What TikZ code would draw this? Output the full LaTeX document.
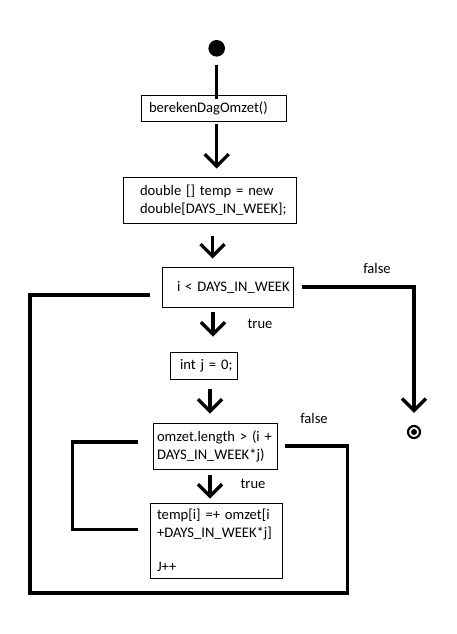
\documentclass[tikz,border=0pt]{standalone}
\usepackage{fontspec}
\setmainfont{Carlito}
\usetikzlibrary{arrows.meta}
\begin{document}
\begin{tikzpicture}[x=1pt,y=-1pt,
  box/.style={draw, line width=1pt, inner xsep=0pt, inner ysep=0pt, align=left, font=\fontsize{14.6}{18}\selectfont},
  thickline/.style={line width=3.3pt},
  arr/.style={line width=3.3pt, -{Straight Barb[length=12pt,width=24pt]}},
  lbl/.style={font=\fontsize{14.6}{18}\selectfont, inner sep=0pt}]
\useasboundingbox[fill=white] (0,0) rectangle (456,634);
% nodes
\node[circle, fill, minimum size=16.6pt, inner sep=0pt] (s) at (216.7,48.3) {};
\node[box, text width=145pt, minimum height=26pt] (b1) at (213.5,108) {\hspace*{8pt}berekenDagOmzet()};
\node[box, text width=173pt, minimum height=46pt] (b2) at (209.5,200) {\hspace*{17pt}\mbox{double [] temp = new}\\\hspace*{17pt}\mbox{double[DAYS\_IN\_WEEK];}};
\node[box, text width=131pt, minimum height=40pt] (b3) at (227.5,287) {\hspace*{15pt}\mbox{i < DAYS\_IN\_WEEK}};
\node[box, text width=67pt, minimum height=27pt] (b4) at (203.5,365.5) {\hspace*{10pt}\mbox{int j = 0;}};
\node[box, text width=124pt, minimum height=46pt] (b5) at (215,446) {\hspace*{4pt}\mbox{omzet.length > (i +}\\\hspace*{4pt}\mbox{DAYS\_IN\_WEEK*j)}};
\node[box, text width=132pt, minimum height=75pt] (b6) at (216,540.5) {\hspace*{7pt}\mbox{temp[i] =+ omzet[i}\\\hspace*{7pt}\mbox{+DAYS\_IN\_WEEK*j]}\\[16pt]\hspace*{7pt}J++};
\node[circle, draw, line width=2.2pt, minimum size=12pt, inner sep=0pt,
  path picture={\fill (path picture bounding box.center) circle (3pt);}] (e) at (414,432) {};
\coordinate (lo) at (30,593);
% labels
\node[lbl] (f1) at (377,268) {false};
\node[lbl] (t1) at (260,324) {true};
\node[lbl] (f2) at (314,418) {false};
\node[lbl] (t2) at (253,484) {true};
% connectors
\draw[thickline, shorten <=8.4pt, shorten >=-4pt] (s) -- (s |- b1.north);
\draw[arr, shorten <=2pt, shorten >=8pt] (s |- b1.south) -- (s |- b2.north);
\draw[arr, shorten <=12pt, shorten >=8pt] ([xshift=3pt]b2.south) -- ([xshift=3pt]b2.south |- b3.north);
\draw[arr, shorten <=4pt, shorten >=15pt] ([xshift=-14.5pt]b3.south) -- ([xshift=-14.5pt]b3.south |- b4.north);
\draw[arr, shorten <=9pt, shorten >=9pt] ([xshift=6.5pt]b4.south) -- ([xshift=6.5pt]b4.south |- b5.north);
\draw[arr, shorten <=5pt, shorten >=4pt] ([xshift=-5pt]b5.south) -- ([xshift=-5pt]b5.south |- b6.north);
\draw[arr, shorten <=8pt, shorten >=12pt] (b3.east) -| (e.north);
\draw[thickline] ([shift={(-12,8)}]b3.west) -| (lo) -| ([xshift=70pt]b5.east) -- ([xshift=7pt]b5.east);
\draw[thickline] ([shift={(-12,-11)}]b6.west) -| ([shift={(-80,-4)}]b5.west) -- ([shift={(-15,-4)}]b5.west);
\end{tikzpicture}
\end{document}
